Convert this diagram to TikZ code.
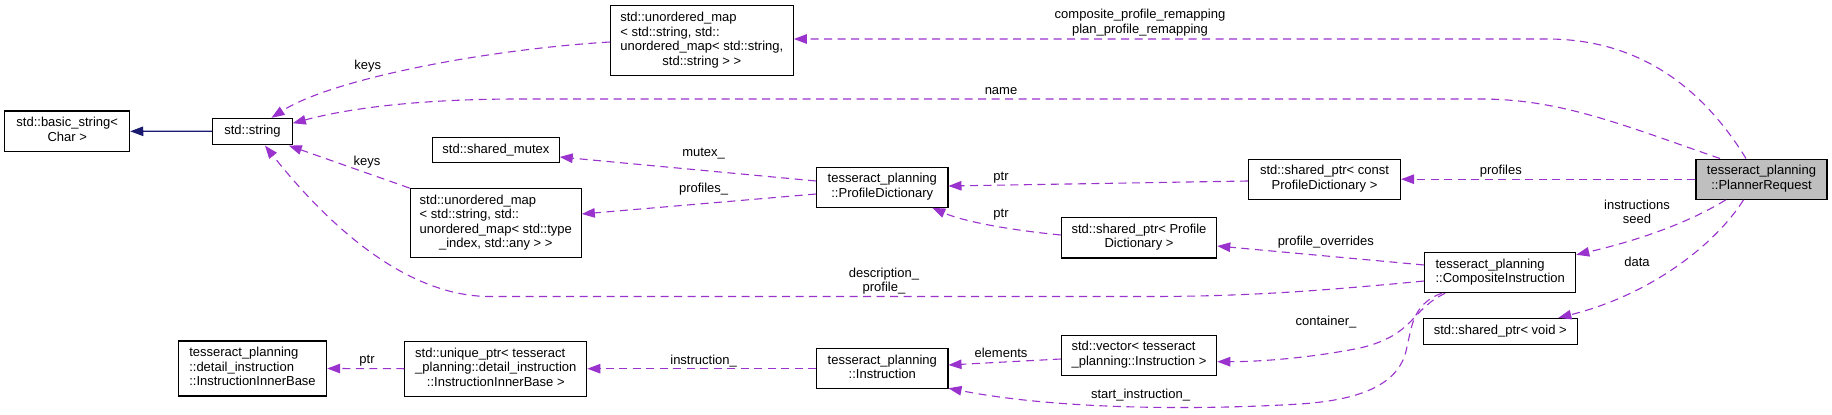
\documentclass[tikz,border=0pt]{standalone}
\usepackage{fontspec}
\setmainfont{Liberation Sans}
\usetikzlibrary{arrows.meta}
\definecolor{edgep}{HTML}{9A32CD}
\definecolor{inhcol}{HTML}{191970}
\definecolor{selfg}{HTML}{BFBFBF}
\newcommand{\lastl}[1]{\multicolumn{1}{@{}c@{}}{#1}}
\newcommand{\blines}[1]{\begin{tabular}{@{}l@{}}#1\end{tabular}}
\tikzset{
  cls/.style={draw=black, line width=1.1pt, rectangle, inner sep=0pt, fill=white,
    font=\fontsize{13}{14.5}\selectfont},
  dep/.style={draw=edgep, line width=1.1pt, dash pattern=on 8pt off 5.5pt,
    -{Triangle[length=13pt,width=9.5pt]}},
  inhe/.style={draw=inhcol, line width=1.1pt, -{Triangle[length=13pt,width=9.5pt]}},
  lbl/.style={inner sep=0pt, align=center, font=\fontsize{13}{14.5}\selectfont}
}
\begin{document}
\begin{tikzpicture}[x=1pt,y=-1pt]
\fill[white] (0,0) rectangle (1832,415);
\useasboundingbox (0,0) rectangle (1832,415);

% nodes
\node[cls, minimum width=125pt, minimum height=40.7pt] (basic) at (67.2,131.3)
  {\blines{std::basic\_string<\\ \lastl{Char >}}};
\node[cls, minimum width=79.5pt, minimum height=25.7pt] (str) at (252.5,131.2) {std::string};
\node[cls, minimum width=183pt, minimum height=69.6pt] (umapS) at (701.8,40.5)
  {\blines{std::unordered\_map\\ < std::string, std::\\ unordered\_map< std::string,\\ \lastl{std::string > >}}};
\node[cls, minimum width=126.5pt, minimum height=25.7pt] (mutex) at (495.9,150) {std::shared\_mutex};
\node[cls, minimum width=171pt, minimum height=69pt] (umapA) at (495.8,223.2)
  {\blines{std::unordered\_map\\ < std::string, std::\\ unordered\_map< std::type\\ \lastl{\_index, std::any > >}}};
\node[cls, minimum width=131.3pt, minimum height=40pt] (pdict) at (882.3,187.3)
  {\blines{tesseract\_planning\\ \lastl{::ProfileDictionary}}};
\node[cls, minimum width=152pt, minimum height=40pt] (spconst) at (1324.5,179.2)
  {\blines{std::shared\_ptr< const\\ \lastl{ProfileDictionary >}}};
\node[cls, fill=selfg, minimum width=131pt, minimum height=40.3pt] (planner) at (1761.5,179.2)
  {\blines{tesseract\_planning\\ \lastl{::PlannerRequest}}};
\node[cls, minimum width=155.4pt, minimum height=40.3pt] (sppd) at (1139,237.8)
  {\blines{std::shared\_ptr< Profile\\ \lastl{Dictionary >}}};
\node[cls, minimum width=151pt, minimum height=40.4pt] (comp) at (1500.2,272.5)
  {\blines{tesseract\_planning\\ \lastl{::CompositeInstruction}}};
\node[cls, minimum width=154pt, minimum height=25.7pt] (spvoid) at (1500.3,331.2) {std::shared\_ptr< void >};
\node[cls, minimum width=155.4pt, minimum height=40.3pt] (vec) at (1139,355.2)
  {\blines{std::vector< tesseract\\ \lastl{\_planning::Instruction >}}};
\node[cls, minimum width=131.3pt, minimum height=40pt] (instr) at (882.3,368.7)
  {\blines{tesseract\_planning\\ \lastl{::Instruction}}};
\node[cls, minimum width=182pt, minimum height=55pt] (uptr) at (495.8,368.7)
  {\blines{std::unique\_ptr< tesseract\\ \_planning::detail\_instruction\\ \lastl{::InstructionInnerBase >}}};
\node[cls, minimum width=148.3pt, minimum height=55pt] (inner) at (252.5,368.5)
  {\blines{tesseract\_planning\\ ::detail\_instruction\\ \lastl{::InstructionInnerBase}}};

% inheritance
\draw[inhe] (str.west) -- (basic.east);

% dependencies
\draw[dep] ([shift={(0,1.5)}]umapS.west) .. controls (480,50) and (330,80) .. ([shift={(19,0)}]str.north);
\draw[dep] ([shift={(-41.5,0)}]planner.north) .. controls (1620,124) and (1560,99) .. (1480,99)
  -- (520,99) .. controls (420,99) and (350,108) .. ([shift={(0,-8)}]str.east);
\draw[dep] ([shift={(-15.5,0)}]planner.north) .. controls (1710,100) and (1650,39) .. (1547,39)
  -- ([shift={(0,-1.5)}]umapS.east);
\draw[dep] (umapA.north west) -- ([shift={(-4,1)}]str.south east);
\draw[dep] ([shift={(0,8.5)}]comp.west) .. controls (1330,290) and (1250,296.5) .. (1150,296.5)
  -- (490,296.5) .. controls (400,296.5) and (320,215) .. ([shift={(12.5,1)}]str.south);
\draw[dep] ([shift={(0,-6.3)}]pdict.west) -- ([shift={(0,7)}]mutex.east);
\draw[dep] ([shift={(0,6.7)}]pdict.west) -- ([shift={(0,-9.2)}]umapA.east);
\draw[dep] ([shift={(0,1.8)}]spconst.west) -- ([shift={(0,-1.3)}]pdict.east);
\draw[dep] (planner.west) -- (spconst.east);
\draw[dep] ([shift={(0,-2.8)}]sppd.west) .. controls (1000,229) and (960,220) .. ([shift={(50,0)}]pdict.south);
\draw[dep] ([shift={(0,-7.5)}]comp.west) -- ([shift={(0,8.2)}]sppd.east);
\draw[dep] ([shift={(-55,0)}]comp.south) .. controls (1410,310) and (1415,335) .. (1360,348)
  .. controls (1310,358) and (1260,361.7) .. ([shift={(0,6.5)}]vec.east);
\draw[dep] ([shift={(-58.5,0)}]comp.south) .. controls (1410,305) and (1412,330) .. (1405,355)
  .. controls (1395,385) and (1360,400) .. (1300,404)
  .. controls (1200,410) and (1060,410) .. ([shift={(0,-1)}]instr.south east);
\draw[dep] ([shift={(0,3.8)}]vec.west) -- ([shift={(0,-3.7)}]instr.east);
\draw[dep] (instr.west) -- (uptr.east);
\draw[dep] (uptr.west) -- (inner.east);
\draw[dep] ([shift={(-35.8,0)}]planner.south) .. controls (1690,222) and (1640,240) .. ([shift={(0,3)}]comp.north east);
\draw[dep] ([shift={(-18,0)}]planner.south) .. controls (1715,245) and (1650,295) .. ([shift={(58,0)}]spvoid.north);

% labels
\node[lbl] (lkeysA) at (367.7,66) {keys};
\node[lbl] (lname) at (1001,91) {name};
\node[lbl] (lremap) at (1140,22.5) {composite\_profile\_remapping\\plan\_profile\_remapping};
\node[lbl] (lkeysB) at (367,162) {keys};
\node[lbl] (lmutex) at (703.6,154) {mutex\_};
\node[lbl] (lprofs) at (703.6,189) {profiles\_};
\node[lbl] (lptrA) at (1001,178) {ptr};
\node[lbl] (lprofiles) at (1500.8,171) {profiles};
\node[lbl] (lptrB) at (1001,215) {ptr};
\node[lbl] (linstr) at (1637,211.7) {instructions\\seed};
\node[lbl] (lover) at (1325.8,242) {profile\_overrides};
\node[lbl] (ldesc) at (884,281) {description\_\\profile\_};
\node[lbl] (ldata) at (1637,261.7) {data};
\node[lbl] (lcont) at (1326,322) {container\_};
\node[lbl] (lelem) at (1001,352.7) {elements};
\node[lbl] (linsn) at (703.6,360.7) {instruction\_};
\node[lbl] (lptrC) at (367,361) {ptr};
\node[lbl] (lstart) at (1140.5,395) {start\_instruction\_};
\end{tikzpicture}
\end{document}
